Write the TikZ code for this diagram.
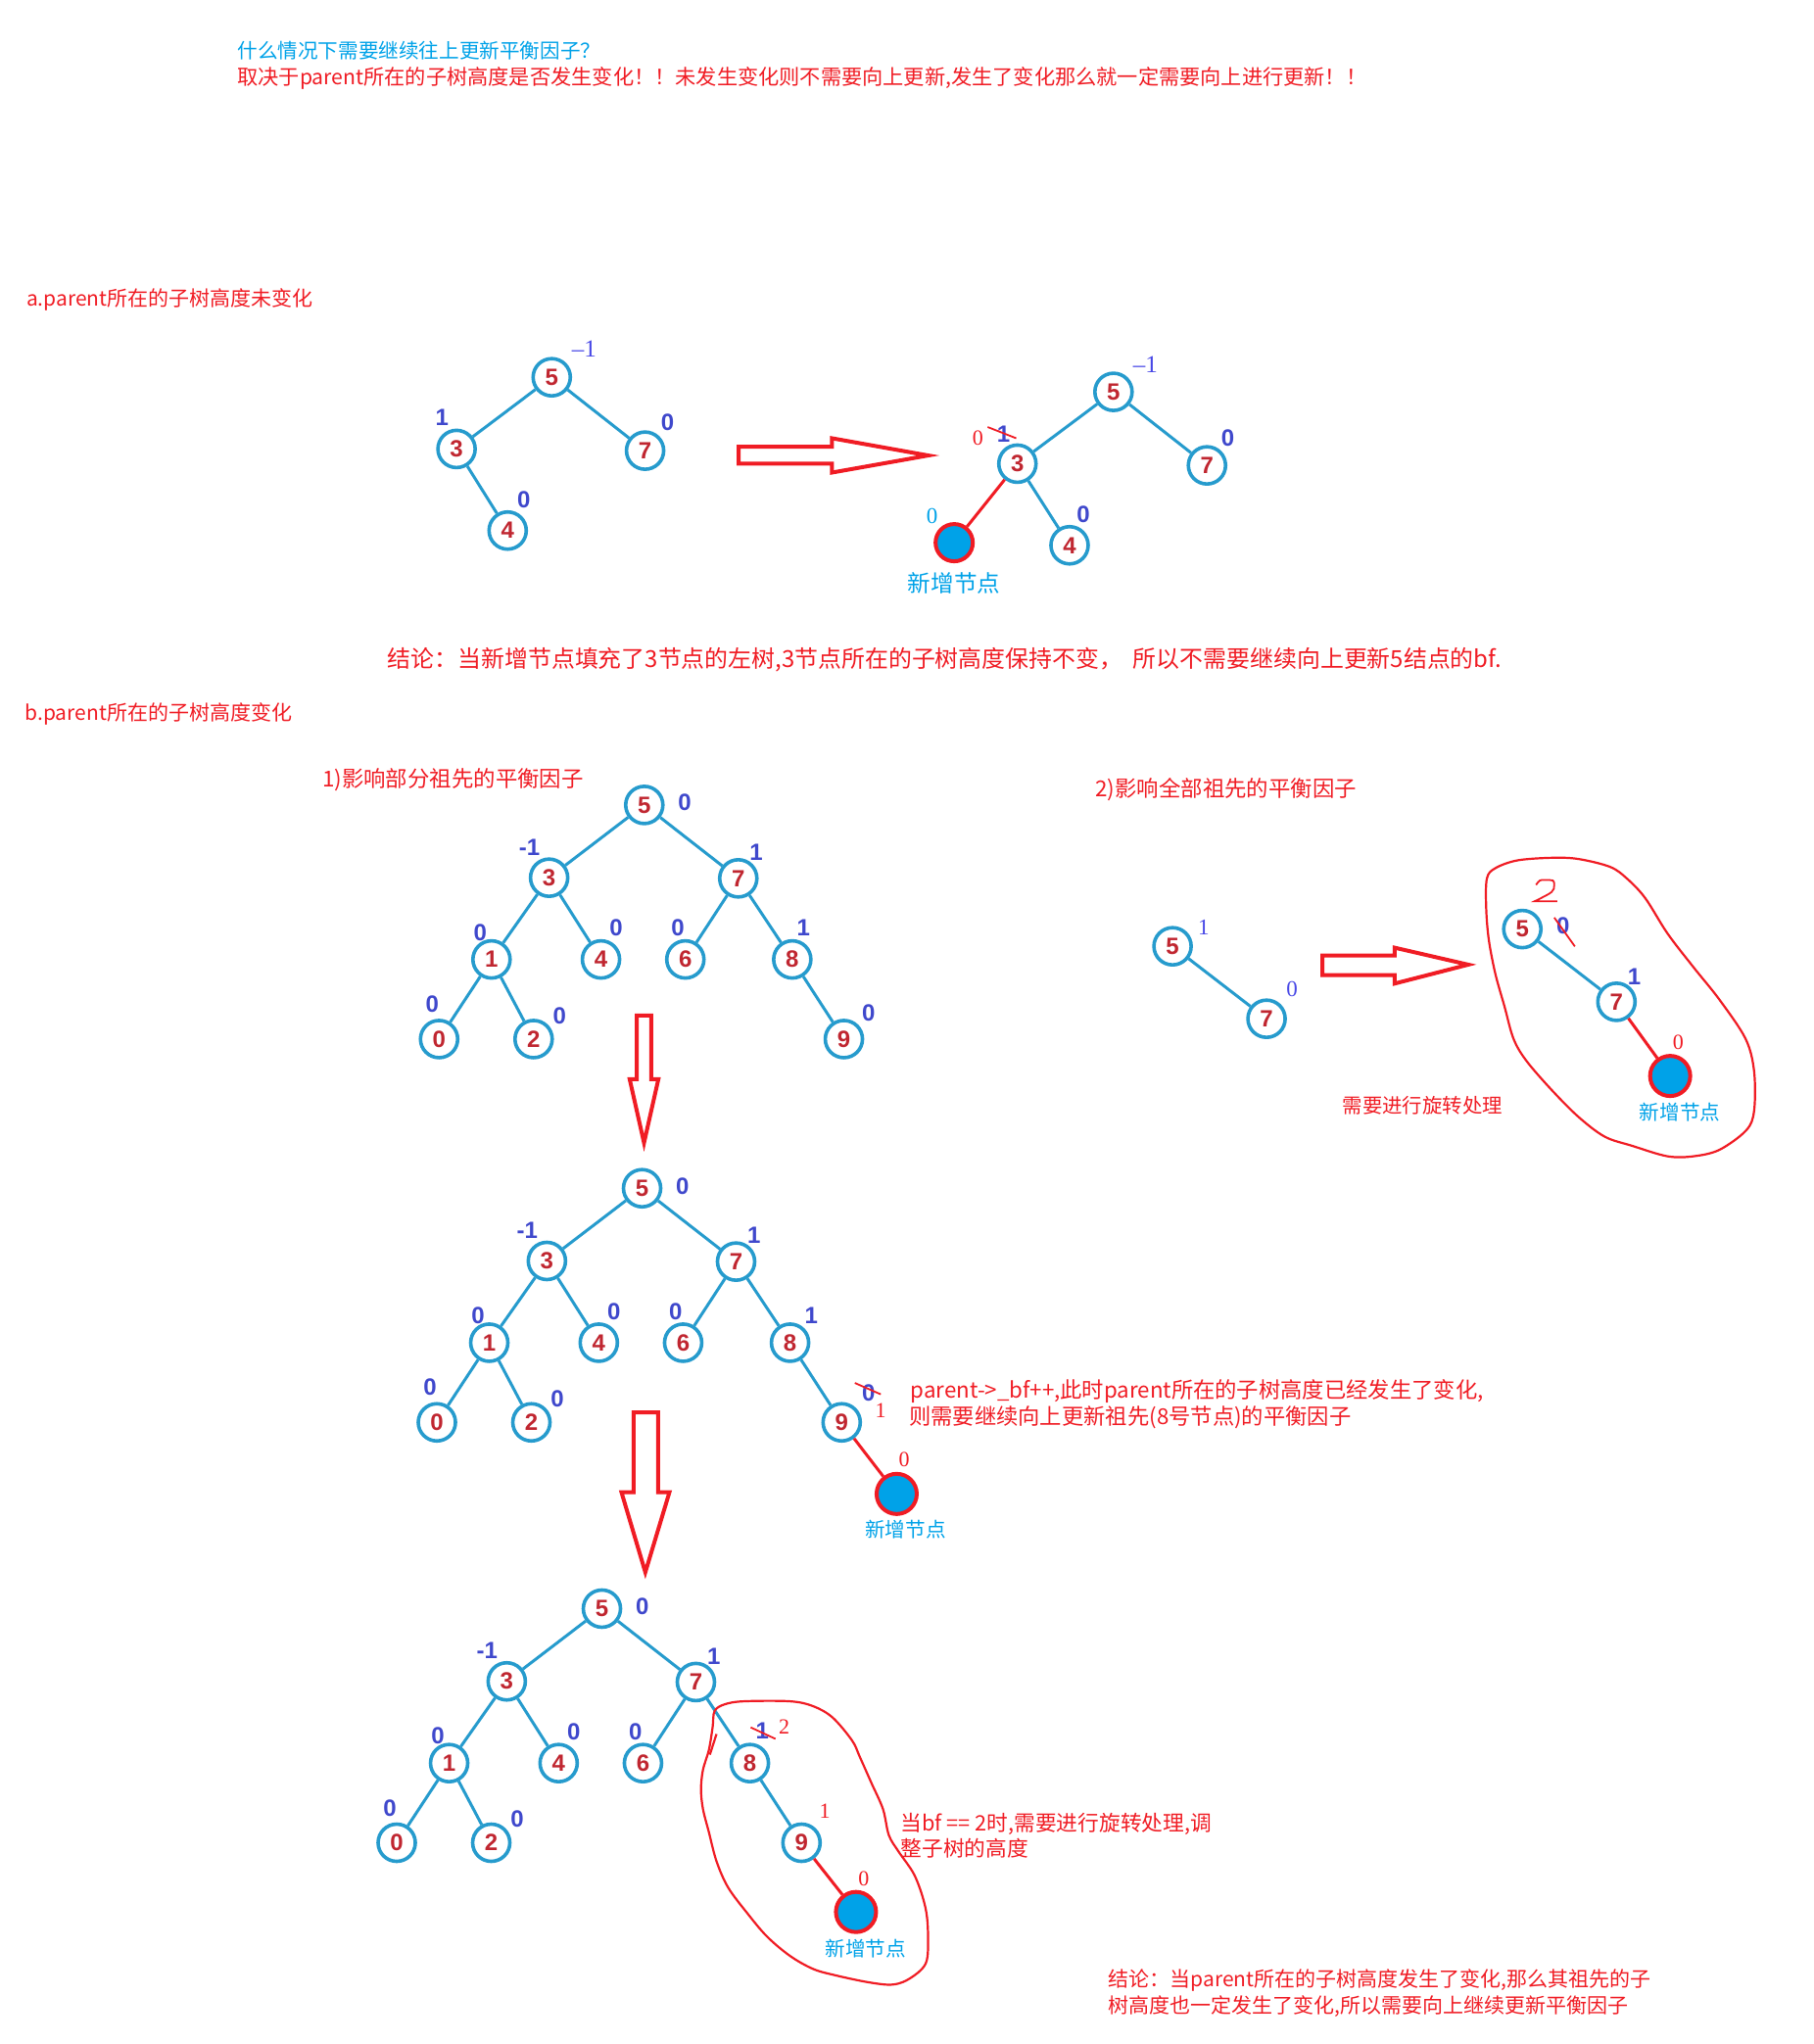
\documentclass[tikz,border=0pt]{standalone}
\usepackage{fontspec}
\setmainfont{Liberation Sans}
\newfontfamily\cjk{Noto Sans CJK SC}
\newfontfamily\thinf{Liberation Serif}
\definecolor{nodeblue}{RGB}{38,155,205}
\definecolor{numred}{RGB}{192,38,48}
\definecolor{bfblue}{RGB}{63,72,204}
\definecolor{thinblue}{RGB}{72,72,230}
\definecolor{pred}{RGB}{240,28,36}
\definecolor{newfill}{RGB}{0,162,232}

\newcommand{\basetree}[1]{%
\node[tn] (#1n5) at (494.2,617.5) {5};
\node[tn] (#1n3) at (421.2,673.3) {3};
\node[tn] (#1n7) at (566.3,673.8) {7};
\node[tn] (#1n1) at (377,736) {1};
\node[tn] (#1n4) at (461,736) {4};
\node[tn] (#1n6) at (525.7,736) {6};
\node[tn] (#1n8) at (607.7,736) {8};
\node[tn] (#1n0) at (336.8,797.1) {0};
\node[tn] (#1n2) at (409.3,797.1) {2};
\node[tn] (#1n9) at (647.3,797.1) {9};
\draw[tedge] (#1n5)--(#1n3) (#1n5)--(#1n7) (#1n3)--(#1n1) (#1n3)--(#1n4)
  (#1n7)--(#1n6) (#1n7)--(#1n8) (#1n1)--(#1n0) (#1n1)--(#1n2) (#1n8)--(#1n9);
\node[bfb] (#1b5) at (525.2,615.7) {0};
\node[bfb] (#1b3) at (406.2,650) {-1};
\node[bfb] (#1b7) at (580,653.8) {1};
\node[bfb] (#1b1) at (368.4,715.2) {0};
\node[bfb] (#1b4) at (472.7,711.9) {0};
\node[bfb] (#1b6) at (520,711.9) {0};
\node[bfb] (#1b0) at (331.6,770.3) {0};
\node[bfb] (#1b2) at (429.2,779) {0};
}

\begin{document}
\begin{tikzpicture}[x=0.66535pt,y=-0.66535pt,
  tn/.style={circle, draw=nodeblue, line width=1.8pt, minimum size=19pt, inner sep=0pt, text=numred, font=\bfseries\fontsize{12}{12}\selectfont},
  newn/.style={circle, draw=pred, fill=newfill, line width=2pt, minimum size=20.5pt, inner sep=0pt},
  tedge/.style={draw=nodeblue, line width=1.5pt},
  nedge/.style={draw=pred, line width=1.5pt},
  bfb/.style={text=bfblue, font=\bfseries\fontsize{12}{12}\selectfont, inner sep=0pt},
  bft/.style={text=thinblue, font=\thinf\fontsize{11.5}{11.5}\selectfont, inner sep=0pt},
  bfr/.style={text=pred, font=\thinf\fontsize{11}{11}\selectfont, inner sep=0pt},
  txt/.style={anchor=west, inner sep=0pt, text=pred, font=\cjk\fontsize{11}{11}\selectfont},
  newlbl/.style={inner sep=0pt, text=newfill, font=\cjk\fontsize{10.3}{10.3}\selectfont},
  hollow/.style={draw=pred, line width=2pt, line join=miter},
  handloop/.style={draw=pred, line width=1.1pt},
  strike/.style={draw=pred, line width=0.9pt}]
\useasboundingbox (0,0) rectangle (1391,1568);

% ---------- title ----------
\node[txt, text=newfill, font=\cjk\fontsize{10.3}{10.3}\selectfont] (t1) at (181.9,38.8) {什么情况下需要继续往上更新平衡因子？};
\node[txt, font=\cjk\fontsize{10.6}{10.6}\selectfont] (t2) at (181.9,60.1) {取决于parent所在的子树高度是否发生变化！！未发生变化则不需要向上更新,发生了变化那么就一定需要向上进行更新！！};

% ---------- section a ----------
\node[txt, font=\cjk\fontsize{10.5}{10.5}\selectfont] (ha) at (20,230) {a.parent所在的子树高度未变化};

\node[tn] (a5) at (423.2,289.4) {5};
\node[tn] (a3) at (350.2,344.4) {3};
\node[tn] (a7) at (494.8,345.7) {7};
\node[tn] (a4) at (389.4,407) {4};
\draw[tedge] (a5)--(a3) (a5)--(a7) (a3)--(a4);
\node[bft, font=\thinf\fontsize{12.5}{12.5}\selectfont] (ab5) at (448,267.5) {–1};
\node[bfb] (ab3) at (339,320.6) {1};
\node[bfb] (ab7) at (512,324) {0};
\node[bfb] (ab4) at (401.8,383.3) {0};

\draw[hollow] (566.5,342.7) -- (638.2,342.7) -- (638.2,336.2) -- (712,349.4) -- (638.2,362.5) -- (638.2,355.7) -- (566.5,355.7) -- cycle;

\node[tn] (r5) at (854.1,300.6) {5};
\node[tn] (r3) at (780.4,355.7) {3};
\node[tn] (r7) at (925.8,357) {7};
\node[tn] (r4) at (820.4,418.3) {4};
\node[newn, minimum size=19pt] (rnew) at (731.9,416.3) {};
\draw[tedge] (r5)--(r3) (r5)--(r7) (r3)--(r4);
\draw[nedge] (r3)--(rnew);
\node[bft, font=\thinf\fontsize{12.5}{12.5}\selectfont] (rb5) at (878.6,279.3) {–1};
\node[bfb] (rb7) at (941.8,336.2) {0};
\node[bfb] (rb4) at (831,394.5) {0};
\node[bfb] (rb3) at (769.8,332.7) {1};
\node[bfr] (rb3n) at (750,336.2) {0};
\draw[strike] (757.6,327.6) -- (779.5,336.2);
\node[bft, text=newfill] (rbn) at (715,395.8) {0};
\node[newlbl, font=\cjk\fontsize{11.8}{11.8}\selectfont] (rlbl) at (731.9,447.1) {新增节点};

\node[txt, font=\cjk\fontsize{11.95}{11.95}\selectfont] (ca) at (297.1,506) {结论：当新增节点填充了3节点的左树,3节点所在的子树高度保持不变，\ \ 所以不需要继续向上更新5结点的bf.};

% ---------- section b ----------
\node[txt, font=\cjk\fontsize{10.5}{10.5}\selectfont] (hb) at (19,548) {b.parent所在的子树高度变化};
\node[txt, font=\cjk\fontsize{11.2}{11.2}\selectfont] (h1) at (247,598) {1)影响部分祖先的平衡因子};
\node[txt, font=\cjk\fontsize{11.2}{11.2}\selectfont] (h2) at (840,606) {2)影响全部祖先的平衡因子};

% tree b1
\basetree{p}
\node[bfb] (pb8) at (616.3,711.9) {1};
\node[bfb] (pb9) at (666.3,777) {0};

% down arrow 1
\draw[hollow] (488.5,779) -- (499.5,779) -- (499.5,827.9) -- (505,827.9) -- (494,876.7) -- (483,827.9) -- (488.5,827.9) -- cycle;

% tree b2
\begin{scope}[shift={(-1.7,294)}]
\basetree{q}
\end{scope}
\node[bfb] (qb8) at (622.4,1009.5) {1};
\node[bfb] (qb9) at (666.2,1068.4) {0};
\draw[strike] (655.7,1060.9) -- (675.6,1069.6);
\node[bfr] (qb9n) at (675.6,1082) {1};
\node[newn] (qnew) at (687.8,1146) {};
\draw[nedge] (qn9)--(qnew);
\node[bfr] (qbn) at (693.5,1119.7) {0};
\node[newlbl] (qlbl) at (694.6,1173.6) {新增节点};
\node[txt, font=\cjk\fontsize{11.15}{11.15}\selectfont] (pt1) at (698.3,1067.1) {parent->\_bf++,此时parent所在的子树高度已经发生了变化,};
\node[txt, font=\cjk\fontsize{11.15}{11.15}\selectfont] (pt2) at (697,1087.1) {则需要继续向上更新祖先(8号节点)的平衡因子};

% down arrow 2
\draw[hollow] (486,1083.4) -- (504.8,1083.4) -- (504.8,1144.7) -- (513.5,1144.7) -- (495,1206.1) -- (476.7,1144.7) -- (486,1144.7) -- cycle;

% tree b3
\begin{scope}[shift={(-32.5,616.5)}]
\basetree{s}
\end{scope}
\node[bfb] (sb8) at (584.7,1327.6) {1};
\draw[strike] (575.8,1325.1) -- (594.8,1333.9);
\node[bfr] (sb8n) at (601.6,1324.6) {2};
\node[bfr] (sb9) at (632.7,1389) {1};
\node[newn] (snew) at (656.6,1466.7) {};
\draw[nedge] (sn9)--(snew);
\node[bfr] (sbn) at (662.5,1441.6) {0};
\node[newlbl] (slbl) at (664,1495) {新增节点};
\draw[handloop] plot[smooth cycle, tension=0.55] coordinates {
 (548.1,1312.6) (555.6,1307.5) (570.4,1305.1) (606.1,1305.1) (623.9,1308.9) (638.7,1317.6)
 (653.6,1335.2) (659.5,1347.7) (668.4,1367.7) (677.3,1387.8) (681.8,1407.8) (689.2,1420.3)
 (701.1,1437.8) (708.5,1457.9) (711.5,1475.4) (711.5,1500.5) (707.1,1510.5) (695.1,1519.3)
 (683.3,1522.5) (665.4,1520.5) (641.7,1515.5) (623.9,1510.5) (606.1,1500.5) (588.3,1485.5)
 (573.4,1467.9) (558.5,1447.9) (549.6,1427.8) (543.7,1405.3) (539.2,1387.7) (537.7,1372.7)
 (539.2,1357.7) (543.7,1342.6) (546.6,1325.1)};
\draw[handloop] (549.6,1330.2) -- (544.5,1346);
\node[txt, font=\cjk\fontsize{10.85}{10.85}\selectfont] (bt1) at (690.7,1399) {当bf == 2时,需要进行旋转处理,调};
\node[txt, font=\cjk\fontsize{10.85}{10.85}\selectfont] (bt2) at (690.7,1417.8) {整子树的高度};

\node[txt, font=\cjk\fontsize{10.5}{10.5}\selectfont] (cb1) at (850,1519.3) {结论：当parent所在的子树高度发生了变化,那么其祖先的子};
\node[txt, font=\cjk\fontsize{10.5}{10.5}\selectfont] (cb2) at (850,1539.3) {树高度也一定发生了变化,所以需要向上继续更新平衡因子};

% ---------- part 2 ----------
\node[tn] (u5) at (899.4,725.9) {5};
\node[tn] (u7) at (971.5,781.5) {7};
\draw[tedge] (u5)--(u7);
\node[bft] (ub5) at (923.2,711.4) {1};
\node[bft] (ub7) at (991,759) {0};

\draw[hollow] (1014.4,733) -- (1069.8,733) -- (1069.8,727) -- (1126.2,740) -- (1069.8,754.5) -- (1069.8,748) -- (1014.4,748) -- cycle;

\node[tn] (v5) at (1167.7,712.7) {5};
\node[tn] (v7) at (1239.9,768.5) {7};
\node[newn] (vnew) at (1281.1,825.4) {};
\draw[tedge] (v5)--(v7);
\draw[nedge] (v7)--(vnew);
\node[bfb] (vb5) at (1198.9,710.2) {0};
\draw[strike] (1192.2,703.9) -- (1208,726);
\draw[strike] (1178.2,678.8) .. controls (1181,675) .. (1184.5,675.1) .. controls (1192,675) .. (1192.2,678.6) .. controls (1192,684) .. (1177.1,691.4) -- (1194.5,691.4);
\node[bfb] (vb7) at (1253.6,749) {1};
\node[bfr] (vbn) at (1287.2,799.6) {0};
\node[newlbl] (vlbl) at (1288.5,853) {新增节点};
\node[txt, font=\cjk\fontsize{10.2}{10.2}\selectfont] (rot) at (1029.5,847.9) {需要进行旋转处理};
\draw[handloop] plot[smooth cycle, tension=0.55] coordinates {
 (1140.5,674) (1147,666) (1164,660) (1191,658) (1211,659) (1235,665) (1248,674)
 (1262,689) (1279,716) (1299,742) (1319,767) (1339,797) (1345.5,822) (1345.5,852)
 (1339.5,867) (1319,882) (1299,887) (1279,887) (1252,879) (1231,872) (1211,857)
 (1191,837) (1171,814) (1161,797) (1154,772) (1147,747) (1142,721) (1140,697)};
\end{tikzpicture}
\end{document}
